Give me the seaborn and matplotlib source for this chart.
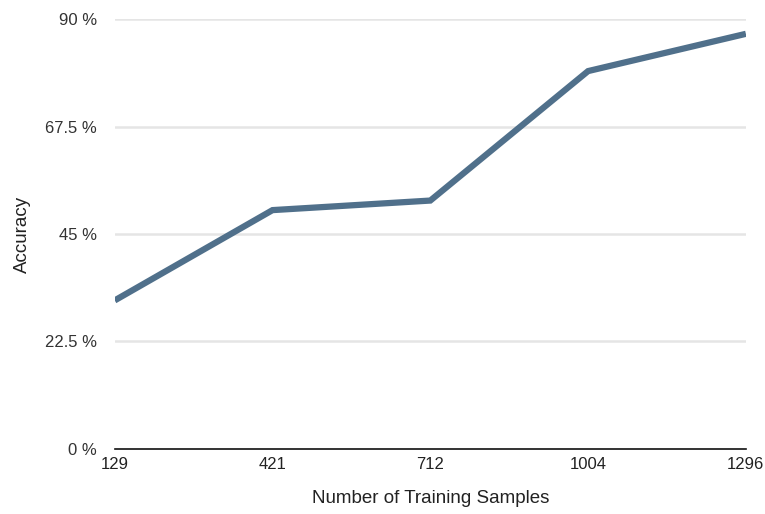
import matplotlib
matplotlib.use("Agg")
import matplotlib.pyplot as plt
import seaborn as sns
import pandas as pd

samples = ["129", "421", "712", "1004", "1296"]
accuracy = [31.1, 50.0, 52.0, 79.1, 86.9]
y_ticks = [0, 22.5, 45, 67.5, 90]
y_tick_labels = ["0 %", "22.5 %", "45 %", "67.5 %", "90 %"]

sns.set_style("white")
plt.rcParams['font.family'] = ['Liberation Sans', 'DejaVu Sans']

df = pd.DataFrame({"pos": list(range(len(samples))), "acc": accuracy})

fig = plt.figure(figsize=(7.65, 5.14), dpi=100)
ax = fig.add_axes([0.150, 0.1265, 0.825, 0.8365])

for t in y_ticks[1:]:
    ax.axhline(t, color="#e5e5e5", lw=1.8, zorder=0)

sns.lineplot(data=df, x="pos", y="acc", ax=ax, color="#50708b", lw=4.5,
             solid_capstyle="butt", solid_joinstyle="miter", zorder=3)

ax.set_xlim(0, len(samples) - 1)
ax.set_ylim(0, 90)
ax.set_xticks(range(len(samples)))
ax.set_xticklabels(samples, fontsize=12, color="#222222")
ax.set_yticks(y_ticks)
ax.set_yticklabels(y_tick_labels, fontsize=12, color="#333333")
ax.tick_params(axis="both", length=0)
ax.tick_params(axis="x", pad=6)
ax.tick_params(axis="y", pad=13)

for s in ["top", "right", "left"]:
    ax.spines[s].set_visible(False)
ax.spines["bottom"].set_color("#111111")
ax.spines["bottom"].set_linewidth(1.2)
ax.spines["bottom"].set_zorder(4)

ax.set_xlabel("Number of Training Samples", fontsize=13.5, color="#222222", labelpad=13)
ax.set_ylabel("Accuracy", fontsize=13.5, color="#222222")
ax.yaxis.set_label_coords(-0.133, 0.498)

fig.savefig("out.png", dpi=100)
